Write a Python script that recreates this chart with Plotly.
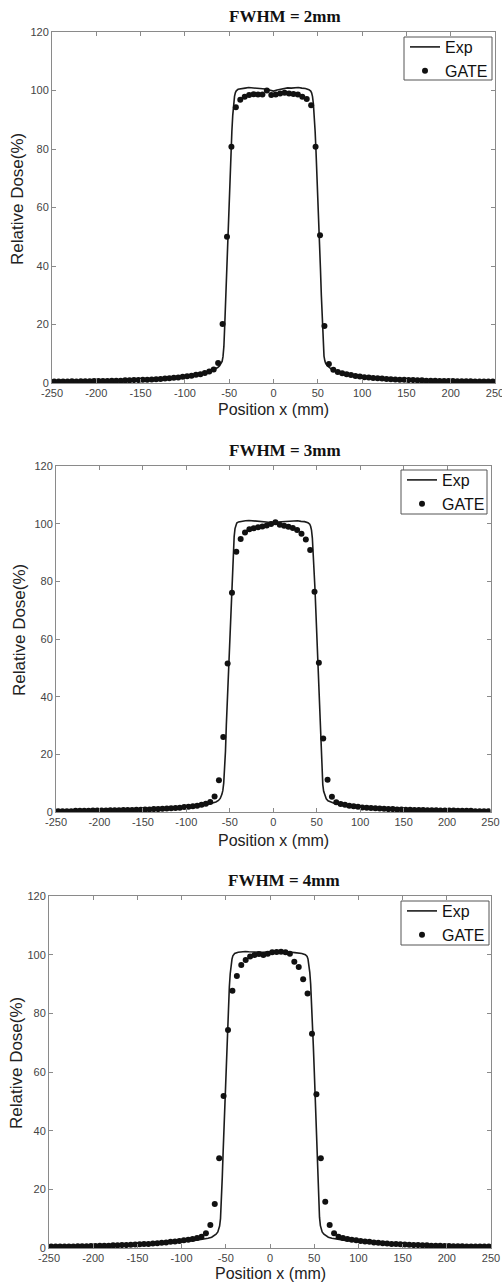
import plotly.graph_objects as go

W, H = 502, 1283

PANEL_TITLES = ["FWHM = 2mm", "FWHM = 3mm", "FWHM = 4mm"]
X_TITLE = "Position x (mm)"
Y_TITLE = "Relative Dose(%)"
SERIES_NAMES = ["Exp", "GATE"]

X_TICKS = [-250, -200, -150, -100, -50, 0, 50, 100, 150, 200, 250]
X_TICK_LABELS = ["-250", "-200", "-150", "-100", "-50", "0", "50", "100", "150", "200", "250"]
Y_TICKS = [0, 20, 40, 60, 80, 100, 120]
Y_TICK_LABELS = ["0", "20", "40", "60", "80", "100", "120"]

# GATE sample positions (mm)
X_GATE = [
    -247.5, -242.5, -237.5, -232.5, -227.5, -222.5, -217.5, -212.5, -207.5, -202.5,
    -197.5, -192.5, -187.5, -182.5, -177.5, -172.5, -167.5, -162.5, -157.5, -152.5,
    -147.5, -142.5, -137.5, -132.5, -127.5, -122.5, -117.5, -112.5, -107.5, -102.5,
    -97.5, -92.5, -87.5, -82.5, -77.5, -72.5, -67.5, -62.5, -57.5, -52.5,
    -47.5, -42.5, -37.5, -32.5, -27.5, -22.5, -17.5, -12.5, -7.5, -2.5,
    2.5, 7.5, 12.5, 17.5, 22.5, 27.5, 32.5, 37.5, 42.5, 47.5,
    52.5, 57.5, 62.5, 67.5, 72.5, 77.5, 82.5, 87.5, 92.5, 97.5,
    102.5, 107.5, 112.5, 117.5, 122.5, 127.5, 132.5, 137.5, 142.5, 147.5,
    152.5, 157.5, 162.5, 167.5, 172.5, 177.5, 182.5, 187.5, 192.5, 197.5,
    202.5, 207.5, 212.5, 217.5, 222.5, 227.5, 232.5, 237.5, 242.5, 247.5,
]

GATE_2MM = [
    0.5, 0.5, 0.5, 0.5, 0.6, 0.5, 0.6, 0.6, 0.6, 0.7,
    0.7, 0.7, 0.7, 0.8, 0.8, 0.8, 0.9, 0.9, 1.0, 1.0,
    1.1, 1.1, 1.2, 1.3, 1.4, 1.5, 1.6, 1.8, 1.9, 2.1,
    2.3, 2.5, 2.8, 3.0, 3.4, 3.9, 4.6, 6.8, 20.2, 50.0,
    80.8, 94.3, 96.8, 97.9, 98.5, 98.7, 98.6, 98.6, 100.0, 98.5,
    98.6, 99.0, 99.2, 99.0, 98.8, 98.6, 97.9, 97.1, 95.0, 80.8,
    50.5, 19.5, 6.5, 4.5, 3.8, 3.3, 3.0, 2.7, 2.4, 2.2,
    2.0, 1.9, 1.7, 1.6, 1.5, 1.4, 1.3, 1.2, 1.1, 1.1,
    1.0, 1.0, 0.9, 0.9, 0.8, 0.8, 0.8, 0.7, 0.7, 0.7,
    0.7, 0.6, 0.6, 0.6, 0.6, 0.5, 0.5, 0.5, 0.5, 0.5,
]

GATE_3MM = [
    0.3, 0.3, 0.3, 0.3, 0.4, 0.4, 0.4, 0.4, 0.5, 0.5,
    0.5, 0.5, 0.6, 0.6, 0.6, 0.7, 0.7, 0.7, 0.8, 0.8,
    0.9, 0.9, 1.0, 1.0, 1.1, 1.2, 1.3, 1.4, 1.5, 1.7,
    1.8, 2.0, 2.2, 2.5, 2.9, 3.5, 5.4, 11.0, 26.0, 51.5,
    76.0, 90.3, 94.7, 96.9, 98.1, 98.4, 98.8, 99.0, 99.4, 99.9,
    100.5, 99.6, 99.3, 98.9, 98.5, 97.8, 96.5, 94.5, 90.9, 76.4,
    51.8, 25.5, 11.2, 5.3, 3.4, 2.8, 2.5, 2.2, 2.0, 1.8,
    1.6, 1.5, 1.4, 1.3, 1.2, 1.1, 1.0, 1.0, 0.9, 0.9,
    0.8, 0.8, 0.7, 0.7, 0.7, 0.6, 0.6, 0.6, 0.5, 0.5,
    0.5, 0.5, 0.4, 0.4, 0.4, 0.4, 0.3, 0.3, 0.3, 0.3,
]

GATE_4MM = [
    0.5, 0.5, 0.5, 0.5, 0.5, 0.5, 0.6, 0.6, 0.6, 0.7,
    0.7, 0.8, 0.8, 0.8, 0.9, 0.9, 1.0, 1.0, 1.1, 1.2,
    1.3, 1.4, 1.4, 1.5, 1.6, 1.8, 1.9, 2.1, 2.2, 2.4,
    2.6, 2.8, 3.1, 3.4, 3.8, 5.0, 7.8, 15.0, 30.6, 51.8,
    74.3, 87.7, 92.7, 96.5, 98.2, 99.4, 99.9, 100.2, 99.9, 100.3,
    100.8, 100.9, 101.0, 100.8, 100.3, 97.6, 95.8, 91.6, 86.8, 73.0,
    52.4, 30.6, 15.8, 7.8, 5.0, 3.8, 3.4, 3.1, 2.8, 2.6,
    2.4, 2.2, 2.1, 1.9, 1.8, 1.6, 1.5, 1.4, 1.4, 1.3,
    1.2, 1.1, 1.0, 1.0, 0.9, 0.9, 0.8, 0.8, 0.8, 0.7,
    0.7, 0.6, 0.6, 0.6, 0.5, 0.5, 0.5, 0.5, 0.5, 0.5,
]

# Exp measurement positions (mm)
X_EXP = [
    -250, -240, -230, -220, -210, -200, -190, -180, -170, -160, -150, -140, -130, -120, -110, -100,
    -95, -90, -85, -80, -75, -70,
    -66, -63, -61, -59,
    -58, -57, -56, -55, -54, -53, -52, -51, -50, -49, -48, -47, -46, -45, -44, -43, -42,
    -40,
    -36, -32, -28, -24, -20, -16, -12, -8, -4, 0, 4, 8, 12, 16, 20, 24, 28, 32, 36,
    40,
    42, 43, 44, 45, 46, 47, 48, 49, 50, 51, 52, 53, 54, 55, 56, 57, 58,
    59, 61, 63, 66,
    70, 75, 80, 85, 90, 95,
    100, 110, 120, 130, 140, 150, 160, 170, 180, 190, 200, 210, 220, 230, 240, 250,
]

EXP_2MM = [
    0.5, 0.5, 0.5, 0.6, 0.6, 0.7, 0.7, 0.8, 0.8, 0.9, 1.0, 1.1, 1.3, 1.5, 1.8, 2.1,
    2.3, 2.6, 2.9, 3.2, 3.6, 4.1,
    4.7, 5.3, 5.8, 6.6,
    7.4, 9.0, 12.5, 20.0, 29.0, 38.0, 47.0, 56.0, 64.0, 72.0, 79.0, 86.0, 91.5, 95.5, 98.0, 99.3, 99.9,
    100.4,
    100.7, 100.8, 101.0, 100.9, 101.0, 100.8, 100.6, 100.4, 100.0, 99.8, 100.2, 100.5, 100.8, 100.9, 100.8, 100.9, 101.0, 100.8, 100.7,
    100.3,
    99.8, 99.2, 98.0, 95.5, 91.5, 86.0, 79.0, 72.0, 64.0, 56.0, 48.0, 39.0, 30.0, 21.0, 13.0, 9.2, 7.5,
    6.6, 5.8, 5.2, 4.6,
    4.0, 3.5, 3.1, 2.8, 2.5, 2.2,
    2.0, 1.7, 1.5, 1.3, 1.1, 1.0, 0.9, 0.8, 0.8, 0.7, 0.7, 0.6, 0.6, 0.5, 0.5, 0.5,
]

EXP_3MM = [
    0.3, 0.3, 0.3, 0.4, 0.4, 0.4, 0.5, 0.5, 0.6, 0.6, 0.7, 0.8, 0.9, 1.0, 1.2, 1.4,
    1.6, 1.8, 2.0, 2.3, 2.7, 3.1,
    3.5, 4.0, 4.7, 6.2,
    7.5, 10.0, 14.0, 21.0, 30.0, 38.0, 46.0, 54.0, 62.0, 70.0, 78.0, 85.0, 91.0, 95.5, 98.3, 99.6, 100.2,
    100.6,
    100.9, 101.0, 101.1, 101.0, 100.9, 101.0, 100.8, 100.6, 100.4, 100.5, 100.6, 100.7, 100.8, 100.9, 100.8, 100.9, 101.0, 100.8, 100.7,
    100.3,
    99.8, 99.1, 97.8, 95.0, 90.5, 84.5, 77.5, 70.0, 62.0, 54.0, 46.0, 38.0, 29.0, 20.0, 13.5, 9.5, 7.2,
    6.0, 4.6, 3.9, 3.4,
    3.0, 2.6, 2.2, 1.9, 1.7, 1.5,
    1.4, 1.2, 1.0, 0.9, 0.8, 0.7, 0.6, 0.6, 0.5, 0.5, 0.4, 0.4, 0.4, 0.3, 0.3, 0.3,
]

EXP_4MM = [
    0.5, 0.5, 0.5, 0.5, 0.6, 0.6, 0.7, 0.8, 0.9, 1.0, 1.1, 1.3, 1.4, 1.6, 1.9, 2.1,
    2.3, 2.5, 2.6, 2.8, 3.0, 3.3,
    3.7, 4.2, 4.7, 5.5,
    6.3, 7.5, 10.0, 15.0, 24.0, 33.0, 42.0, 51.0, 60.0, 68.0, 76.0, 83.0, 89.0, 93.5, 96.5, 98.5, 99.6,
    100.4,
    100.8, 101.0, 101.1, 101.0, 100.9, 100.9, 100.8, 100.8, 100.9, 100.8, 100.9, 101.0, 101.0, 100.9, 100.8, 100.8, 100.7, 100.6, 100.4,
    100.0,
    99.4, 98.5, 96.8, 94.0, 90.0, 84.0, 77.0, 69.0, 61.0, 52.0, 43.0, 34.0, 25.0, 16.0, 10.5, 7.6, 6.3,
    5.5, 4.7, 4.2, 3.7,
    3.3, 3.0, 2.8, 2.6, 2.5, 2.3,
    2.1, 1.9, 1.6, 1.4, 1.3, 1.1, 1.0, 0.9, 0.8, 0.7, 0.6, 0.6, 0.5, 0.5, 0.5, 0.5,
]

EXP_SERIES = [EXP_2MM, EXP_3MM, EXP_4MM]
GATE_SERIES = [GATE_2MM, GATE_3MM, GATE_4MM]

# layout geometry in pixels: (left, right, top, bottom)
PANELS = [(52, 495, 32, 383), (56, 490.5, 466, 812), (49, 491, 896, 1248)]
TITLE_POS = [(285, 17), (285, 450), (284, 880)]
XTITLE_POS = [(273, 409), (273, 840), (270, 1273)]
YTITLE_POS = [(18, 199), (19, 630), (16, 1063)]
LEGEND_BOX = [(404, 492, 37, 80), (401, 487, 470, 514), (401, 489, 901, 945)]

AXIS_GRAY = "#8a8a8a"
TICK_FONT = dict(family="Liberation Sans, Arial", size=11, color="#444444")

fig = go.Figure()
annotations = []
shapes = []
layout = {}

for i in range(3):
    n = "" if i == 0 else str(i + 1)
    leg = "legend" if i == 0 else "legend" + str(i + 1)
    xa, ya = "x" + n, "y" + n
    fig.add_trace(go.Scatter(
        x=X_EXP, y=EXP_SERIES[i], mode="lines", name=SERIES_NAMES[0],
        line=dict(color="#1c1c1c", width=1.6), xaxis=xa, yaxis=ya, legend=leg,
    ))
    fig.add_trace(go.Scatter(
        x=X_GATE, y=GATE_SERIES[i], mode="markers", name=SERIES_NAMES[1],
        marker=dict(color="#111111", size=6, line=dict(width=0)),
        xaxis=xa, yaxis=ya, legend=leg,
    ))
    l, r, t, b = PANELS[i]
    layout["xaxis" + n] = dict(
        domain=[l / W, r / W], range=[-250, 250], anchor=ya, automargin=False,
        tickvals=X_TICKS, ticktext=X_TICK_LABELS, tickfont=TICK_FONT,
        ticklabeloverflow="allow",
        showline=True, linecolor=AXIS_GRAY, linewidth=1, mirror="ticks",
        ticks="inside", ticklen=4, tickcolor=AXIS_GRAY, tickwidth=1,
        showgrid=False, zeroline=False, fixedrange=True,
    )
    layout["yaxis" + n] = dict(
        domain=[1 - b / H, 1 - t / H], range=[0, 120], anchor=xa, automargin=False,
        tickvals=Y_TICKS, ticktext=Y_TICK_LABELS, tickfont=TICK_FONT,
        ticklabeloverflow="allow",
        showline=True, linecolor=AXIS_GRAY, linewidth=1, mirror="ticks",
        ticks="inside", ticklen=4, tickcolor=AXIS_GRAY, tickwidth=1,
        showgrid=False, zeroline=False, fixedrange=True,
    )
    bl, br, bt, bb = LEGEND_BOX[i]
    shapes.append(dict(
        type="rect", xref="paper", yref="paper",
        x0=bl / W, x1=br / W, y0=1 - bb / H, y1=1 - bt / H,
        line=dict(color="#555555", width=1), fillcolor="white", layer="above",
    ))
    layout[leg] = dict(
        x=(bl + 1) / W, y=1 - (bt - 7) / H, xanchor="left", yanchor="top",
        xref="paper", yref="paper",
        bgcolor="rgba(0,0,0,0)", borderwidth=0,
        font=dict(family="Liberation Sans, Arial", size=16, color="#111111"),
        traceorder="normal", tracegroupgap=0,
    )
    tx, ty = TITLE_POS[i]
    annotations.append(dict(
        text="<b>" + PANEL_TITLES[i] + "</b>", x=tx / W, y=1 - ty / H,
        xref="paper", yref="paper", xanchor="center", yanchor="middle",
        showarrow=False,
        font=dict(family="Liberation Serif, Times New Roman", size=17, color="#111111"),
    ))
    px, py = XTITLE_POS[i]
    annotations.append(dict(
        text=X_TITLE, x=px / W, y=1 - py / H, xref="paper", yref="paper",
        xanchor="center", yanchor="middle", showarrow=False,
        font=dict(family="Liberation Sans, Arial", size=16, color="#222222"),
    ))
    qx, qy = YTITLE_POS[i]
    annotations.append(dict(
        text=Y_TITLE, x=qx / W, y=1 - qy / H, xref="paper", yref="paper",
        xanchor="center", yanchor="middle", showarrow=False, textangle=-90,
        font=dict(family="Liberation Sans, Arial", size=17, color="#222222"),
    ))

fig.update_layout(
    width=W, height=H, margin=dict(l=0, r=0, t=0, b=0, autoexpand=False),
    paper_bgcolor="white", plot_bgcolor="white",
    showlegend=True, annotations=annotations, shapes=shapes, **layout,
)

fig.write_html("out.html", config={"displayModeBar": False},
               post_script="document.body.style.margin='0';")
